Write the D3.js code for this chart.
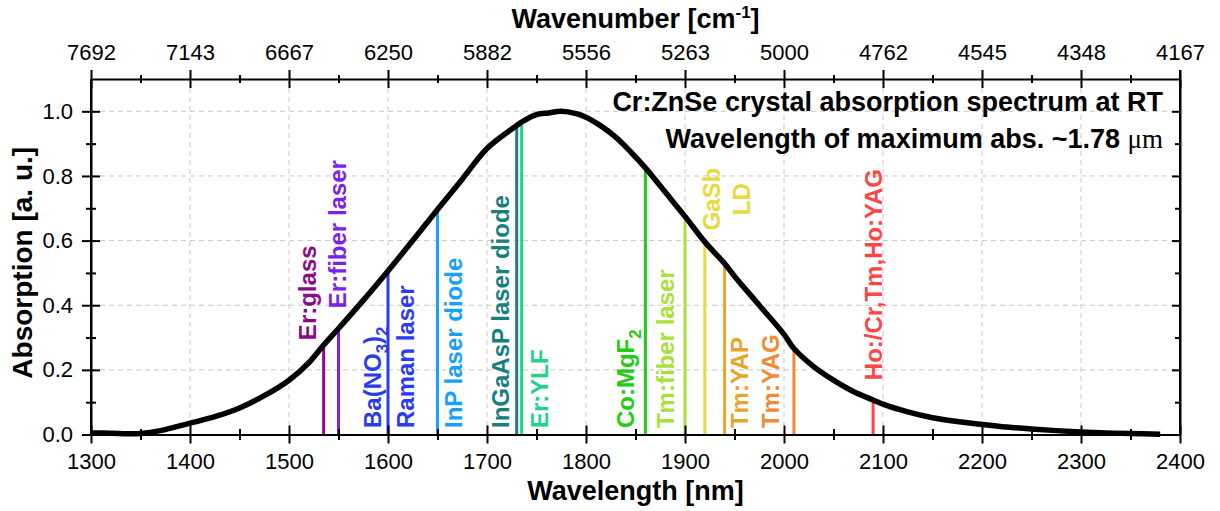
<!DOCTYPE html>
<html>
<head>
<meta charset="utf-8">
<script src="https://cdn.jsdelivr.net/npm/d3@7"></script>
<style>
  body { margin: 0; background: #fff; }
  svg text { font-family: "Liberation Sans", Arial, Helvetica, sans-serif; fill: #000; }
</style>
</head>
<body>
<svg id="chart" width="1220" height="511"></svg>
<script>
// Cr:ZnSe absorption spectrum (normalised), wavelength in nm
const wavelength = [1300, 1320, 1340, 1350, 1370, 1400, 1425, 1450, 1475, 1500, 1520, 1535, 1550, 1575,
  1600, 1625, 1650, 1675, 1700, 1730, 1735, 1750, 1762, 1775, 1790, 1800, 1815, 1830, 1845,
  1860, 1880, 1900, 1920, 1940, 1950, 1975, 2000, 2010, 2030, 2050, 2070, 2090, 2100, 2125,
  2150, 2175, 2200, 2225, 2250, 2275, 2300, 2325, 2350, 2380];
const absorption = [0.005, 0.004, 0.002, 0.003, 0.012, 0.035, 0.055, 0.082, 0.12, 0.168, 0.222, 0.277, 0.328, 0.415,
  0.506, 0.6, 0.696, 0.79, 0.885, 0.956, 0.967, 0.99, 0.995, 1.0, 0.993, 0.982, 0.955, 0.92, 0.875,
  0.825, 0.75, 0.675, 0.596, 0.529, 0.49, 0.4, 0.31, 0.266, 0.21, 0.168, 0.133, 0.107, 0.094, 0.07,
  0.052, 0.04, 0.031, 0.023, 0.017, 0.012, 0.008, 0.005, 0.003, 0.001];

// Laser emission lines marked on the spectrum
const laserWavelengths = [1535, 1550, 1600, 1650, 1730, 1735, 1860, 1900, 1920, 1940, 2010, 2090];
const laserAbsorption  = [0.277, 0.328, 0.506, 0.696, 0.956, 0.967, 0.825, 0.675, 0.596, 0.529, 0.266, 0.107];
const laserColors = ["#8a0a8a", "#7a22e8", "#2a3cf2", "#18a0ff", "#168080", "#20d28c",
  "#22cc12", "#a8e03c", "#e6da3c", "#e6a62c", "#f28a36", "#ff4646"];

// Rotated labels: [text, subscript?] runs, colour index
const labelRuns = [
  [["Er:glass"]],
  [["Er:fiber laser"]],
  [["Ba(NO"], ["3", 1], [")"], ["2", 1]],
  [["Raman laser"]],
  [["InP laser diode"]],
  [["InGaAsP laser diode"]],
  [["Er:YLF"]],
  [["Co:MgF"], ["2", 1]],
  [["Tm:fiber laser"]],
  [["GaSb"]],
  [["LD"]],
  [["Tm:YAP"]],
  [["Tm:YAG"]],
  [["Ho:/Cr,Tm,Ho:YAG"]]
];
const labelColorIndex = [0, 1, 2, 2, 3, 4, 5, 6, 7, 8, 8, 9, 10, 11];
// label placement in data units: centre wavelength, absorption at text start, anchor
const labelAtWavelength = [1519, 1548.5, 1584, 1618, 1665.7, 1713.8, 1752.5, 1839.4, 1879.8, 1926.3, 1957.3, 1954.5, 1986.6, 2089.9];
const labelAtAbsorption = [0.292, 0.391, 0.02, 0.02, 0.02, 0.02, 0.02, 0.02, 0.02, 0.728, 0.728, 0.02, 0.02, 0.168];
const labelAnchor = ["start", "start", "start", "start", "start", "start", "start", "start", "start",
  "middle", "middle", "start", "start", "start"];

// Axes ticks
const xTicks = [1300, 1400, 1500, 1600, 1700, 1800, 1900, 2000, 2100, 2200, 2300, 2400];
const xMinorTicks = [1350, 1450, 1550, 1650, 1750, 1850, 1950, 2050, 2150, 2250, 2350];
const wavenumberLabels = ["7692", "7143", "6667", "6250", "5882", "5556", "5263", "5000", "4762", "4545", "4348", "4167"];
const yTicks = [0.0, 0.2, 0.4, 0.6, 0.8, 1.0];
const yMinorTicks = [0.1, 0.3, 0.5, 0.7, 0.9];

const infoLines = ["Cr:ZnSe crystal absorption spectrum at RT", "Wavelength of maximum abs. ~1.78 "];

const svg = d3.select("#chart");
const plotL = 91, plotR = 1180, plotT = 79, plotB = 434.5;

const x = d3.scaleLinear().domain([1300, 2400]).range([plotL, plotR]);
const y = d3.scaleLinear().domain([0, 1.1]).range([plotB, plotT]);

// grid
const grid = svg.append("g").attr("stroke", "#c8c8c8").attr("stroke-width", 1).attr("stroke-dasharray", "5,4");
grid.selectAll("line.gx").data(xTicks.slice(1, -1)).join("line")
  .attr("x1", d => x(d)).attr("x2", d => x(d)).attr("y1", plotT).attr("y2", plotB);
grid.selectAll("line.gy").data(yTicks.slice(1)).join("line")
  .attr("x1", plotL).attr("x2", plotR).attr("y1", d => y(d)).attr("y2", d => y(d));

// laser lines
svg.append("g").selectAll("line").data(laserWavelengths).join("line")
  .attr("x1", d => x(d)).attr("x2", d => x(d))
  .attr("y1", y(0)).attr("y2", (d, i) => y(laserAbsorption[i]))
  .attr("stroke", (d, i) => laserColors[i]).attr("stroke-width", 3);

// spectrum
const pts = wavelength.map((w, i) => [w, absorption[i]]);
svg.append("path").datum(pts)
  .attr("fill", "none").attr("stroke", "#000").attr("stroke-width", 5.5).attr("stroke-linejoin", "round")
  .attr("d", d3.line().x(d => x(d[0])).y(d => y(d[1])).curve(d3.curveCatmullRom.alpha(0.5)));

// rotated labels
const labels = svg.append("g").attr("font-size", 24).attr("font-weight", "bold");
labelRuns.forEach((runs, i) => {
  const px = x(labelAtWavelength[i]), py = y(labelAtAbsorption[i]);
  const t = labels.append("text")
    .attr("transform", `translate(${px},${py}) rotate(-90)`)
    .attr("dy", "0.36em")
    .attr("text-anchor", labelAnchor[i])
    .style("fill", laserColors[labelColorIndex[i]]);
  let shifted = false;
  runs.forEach(r => {
    const s = t.append("tspan").text(r[0]);
    if (r[1]) { s.attr("font-size", 17).attr("dy", shifted ? 0 : 7); shifted = true; }
    else if (shifted) { s.attr("dy", -7); shifted = false; }
  });
});

// axes
const bottomAxis = svg.append("g").attr("transform", `translate(0,${plotB})`)
  .call(d3.axisBottom(x).tickValues(xTicks).tickSize(9).tickSizeOuter(0).tickFormat(d3.format("d")));
bottomAxis.selectAll(".tick line").attr("y1", -9);
bottomAxis.selectAll(".tick text").attr("y", 34.5).attr("dy", null).attr("font-size", 22);
svg.append("g").attr("transform", `translate(0,${plotB})`)
  .call(d3.axisBottom(x).tickValues(xMinorTicks).tickSize(5.5).tickFormat(""))
  .call(g => g.select(".domain").remove())
  .selectAll(".tick line").attr("y1", -5.5);

const topAxis = svg.append("g").attr("transform", `translate(0,${plotT})`)
  .call(d3.axisTop(x).tickValues(xTicks).tickSize(9).tickSizeOuter(0).tickFormat((d, i) => wavenumberLabels[i]));
topAxis.selectAll(".tick line").attr("y1", 9);
topAxis.selectAll(".tick text").attr("y", -19).attr("dy", null).attr("font-size", 22);
svg.append("g").attr("transform", `translate(0,${plotT})`)
  .call(d3.axisTop(x).tickValues(xMinorTicks).tickSize(4).tickFormat(""))
  .call(g => g.select(".domain").remove())
  .selectAll(".tick line").attr("y1", 4);

const leftAxis = svg.append("g").attr("transform", `translate(${plotL},0)`)
  .call(d3.axisLeft(y).tickValues(yTicks).tickSize(9).tickSizeOuter(0).tickFormat(d3.format(".1f")));
leftAxis.selectAll(".tick line").attr("x1", 9);
leftAxis.selectAll(".tick text").attr("x", -18).attr("font-size", 22);
svg.append("g").attr("transform", `translate(${plotL},0)`)
  .call(d3.axisLeft(y).tickValues(yMinorTicks).tickSize(5).tickFormat(""))
  .call(g => g.select(".domain").remove())
  .selectAll(".tick line").attr("x1", 5);

svg.append("g").attr("transform", `translate(${plotR},0)`)
  .call(d3.axisLeft(y).tickValues(yTicks).tickSize(8).tickSizeOuter(0).tickFormat(""));
svg.append("g").attr("transform", `translate(${plotR},0)`)
  .call(d3.axisLeft(y).tickValues(yMinorTicks).tickSize(5).tickFormat(""))
  .call(g => g.select(".domain").remove());

svg.selectAll(".domain").attr("stroke-width", 2);
svg.selectAll(".tick line").attr("stroke-width", 2);
// left and right spines reach up to the top axis line
svg.append("line").attr("x1", plotR).attr("x2", plotR).attr("y1", plotT - 9).attr("y2", plotB)
  .attr("stroke", "#000").attr("stroke-width", 2);
svg.append("line").attr("x1", plotL).attr("x2", plotL).attr("y1", plotT).attr("y2", plotB)
  .attr("stroke", "#000").attr("stroke-width", 2);

// axis titles
svg.append("text").attr("x", (plotL + plotR) / 2).attr("y", 500).attr("text-anchor", "middle")
  .attr("font-size", 27).attr("font-weight", "bold").text("Wavelength [nm]");
const topTitle = svg.append("text").attr("x", (plotL + plotR) / 2).attr("y", 28).attr("text-anchor", "middle")
  .attr("font-size", 27).attr("font-weight", "bold");
topTitle.append("tspan").text("Wavenumber [cm");
topTitle.append("tspan").attr("font-size", 17).attr("dy", -10).text("-1");
topTitle.append("tspan").attr("dy", 10).text("]");
svg.append("text").attr("transform", `translate(32,${(plotT + plotB) / 2 + 6}) rotate(-90)`)
  .attr("text-anchor", "middle").attr("font-size", 28).attr("font-weight", "bold").text("Absorption [a. u.]");

// info text
const info = svg.append("g").attr("font-size", 27).attr("font-weight", "bold").attr("text-anchor", "end");
info.append("text").attr("x", 1163).attr("y", 111).text(infoLines[0]);
const l2 = info.append("text").attr("x", 1163).attr("y", 148);
l2.append("tspan").text(infoLines[1]);
l2.append("tspan").attr("font-weight", "normal").style("font-family", "'Liberation Serif', serif").text("μm");
</script>
</body>
</html>
